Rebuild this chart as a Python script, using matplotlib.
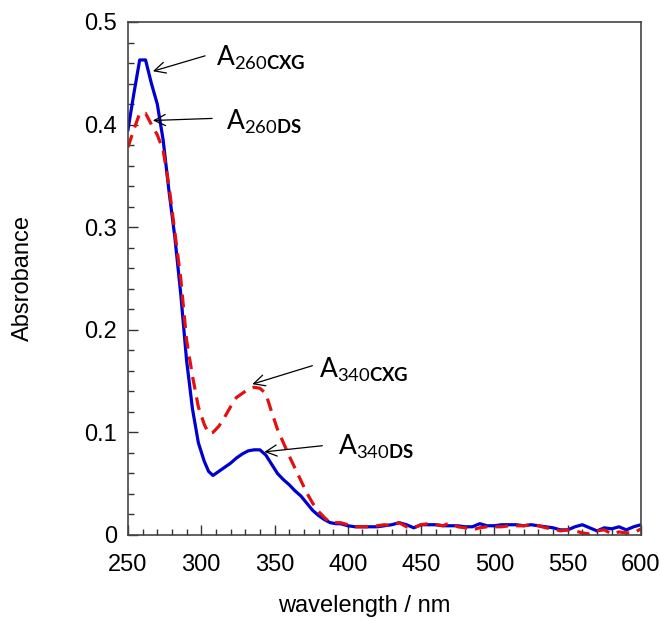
import matplotlib
matplotlib.use('Agg')
import matplotlib.pyplot as plt
from matplotlib.ticker import MultipleLocator, FuncFormatter

plt.rcParams['font.family'] = ['Liberation Sans', 'DejaVu Sans']
plt.rcParams['mathtext.fontset'] = 'custom'
plt.rcParams['mathtext.rm'] = 'Lato'
plt.rcParams['mathtext.bf'] = 'Lato:bold'

# wavelength (nm) and absorbance
wl = [250, 254, 258, 262, 266, 270, 274, 278, 282, 286, 290, 294, 298, 302,
      305, 308, 312, 316, 320, 324, 328, 332, 336, 340, 344, 348, 352, 356,
      360, 364, 368, 372, 376, 380, 384, 388, 392,
      395, 400, 405, 410, 415, 420, 425, 430, 435, 440, 445, 450, 455, 460,
      465, 470, 475, 480, 485, 490, 495, 500, 505, 510, 515, 520, 525, 530,
      535, 540, 545, 550, 555, 560, 565, 570, 575, 580, 585, 590, 595, 600]

abs_ds = [0.395, 0.430, 0.463, 0.463, 0.440, 0.420, 0.385, 0.335, 0.290, 0.235,
          0.170, 0.123, 0.090, 0.072, 0.062, 0.058, 0.062, 0.066, 0.070, 0.075,
          0.079, 0.082, 0.083, 0.083, 0.078, 0.069, 0.060, 0.054, 0.049, 0.043,
          0.038, 0.031, 0.024, 0.019, 0.015, 0.012, 0.011,
          0.011, 0.009, 0.008, 0.008, 0.008, 0.008, 0.009, 0.010, 0.012, 0.010,
          0.007, 0.010, 0.010, 0.010, 0.009, 0.009, 0.009, 0.008, 0.008, 0.011,
          0.009, 0.009, 0.010, 0.010, 0.010, 0.009, 0.010, 0.009, 0.008, 0.007,
          0.005, 0.005, 0.008, 0.010, 0.007, 0.004, 0.007, 0.006, 0.008, 0.005,
          0.008, 0.010]

abs_cxg = [0.378, 0.395, 0.411, 0.411, 0.400, 0.390, 0.375, 0.340, 0.295, 0.250,
           0.190, 0.155, 0.125, 0.108, 0.099, 0.100, 0.106, 0.115, 0.125, 0.134,
           0.138, 0.142, 0.144, 0.143, 0.138, 0.120, 0.103, 0.090, 0.077, 0.065,
           0.053, 0.041, 0.031, 0.023, 0.017, 0.012, 0.012,
           0.012, 0.010, 0.008, 0.008, 0.008, 0.009, 0.010, 0.009, 0.012, 0.008,
           0.007, 0.010, 0.011, 0.010, 0.009, 0.012, 0.008, 0.007, 0.005, 0.007,
           0.008, 0.008, 0.008, 0.009, 0.009, 0.009, 0.010, 0.009, 0.007, 0.006,
           0.004, 0.005, 0.004, 0.002, 0.001, 0.004, 0.005, 0.001, 0.003, 0.002,
           0.002, 0.006]

fig = plt.figure(figsize=(6.61, 6.21), dpi=100)
ax = fig.add_axes([0.1936, 0.1385, 0.7761, 0.8261])

ax.plot(wl, abs_ds, color='#0000d0', lw=2.3, solid_joinstyle='round')
ax.plot(wl, abs_cxg, color='#e41010', lw=2.3, linestyle=(0, (4, 2.5)))

ax.set_xlim(250, 600)
ax.set_ylim(0, 0.5)
ax.xaxis.set_major_locator(MultipleLocator(50))
ax.xaxis.set_minor_locator(MultipleLocator(10))
ax.yaxis.set_major_locator(MultipleLocator(0.1))
ax.yaxis.set_minor_locator(MultipleLocator(0.02))
ax.yaxis.set_major_formatter(FuncFormatter(lambda v, p: '0' if v == 0 else f'{v:.1f}'))
ax.tick_params(which='both', direction='in', labelsize=17, color='#333333')
ax.tick_params(which='major', length=7, width=1)
ax.tick_params(which='minor', length=4, width=1)
ax.tick_params(axis='x', pad=14)
ax.tick_params(axis='y', pad=8)
for s in ax.spines.values():
    s.set_color('#444444')
    s.set_linewidth(1.2)

ax.set_ylabel('Absrobance', fontsize=17)
ax.set_xlabel('wavelength / nm', fontsize=17)
ax.yaxis.set_label_coords(-0.183, 0.5)
ax.xaxis.set_label_coords(0.46, -0.117)

# labels with arrows: (text, arrow tip, arrow tail, text position)
notes = [
    (r'A$_{260\mathbf{CXG}}$', (267, 0.452), (302.6, 0.467), (310, 0.465)),
    (r'A$_{260\mathbf{DS}}$', (267, 0.404), (307.4, 0.406), (317, 0.403)),
    (r'A$_{340\mathbf{CXG}}$', (334.8, 0.147), (375.8, 0.165), (380, 0.161)),
    (r'A$_{340\mathbf{DS}}$', (343, 0.081), (382.6, 0.087), (393.5, 0.086)),
]
for label, tip, tail, pos in notes:
    ax.annotate('', xy=tip, xytext=tail,
                arrowprops=dict(arrowstyle='->', lw=0.9, color='black',
                                mutation_scale=20, shrinkA=0, shrinkB=0))
    ax.text(pos[0], pos[1], label, fontsize=19, family='Lato',
            ha='left', va='center')

fig.savefig('out.png', dpi=100)
